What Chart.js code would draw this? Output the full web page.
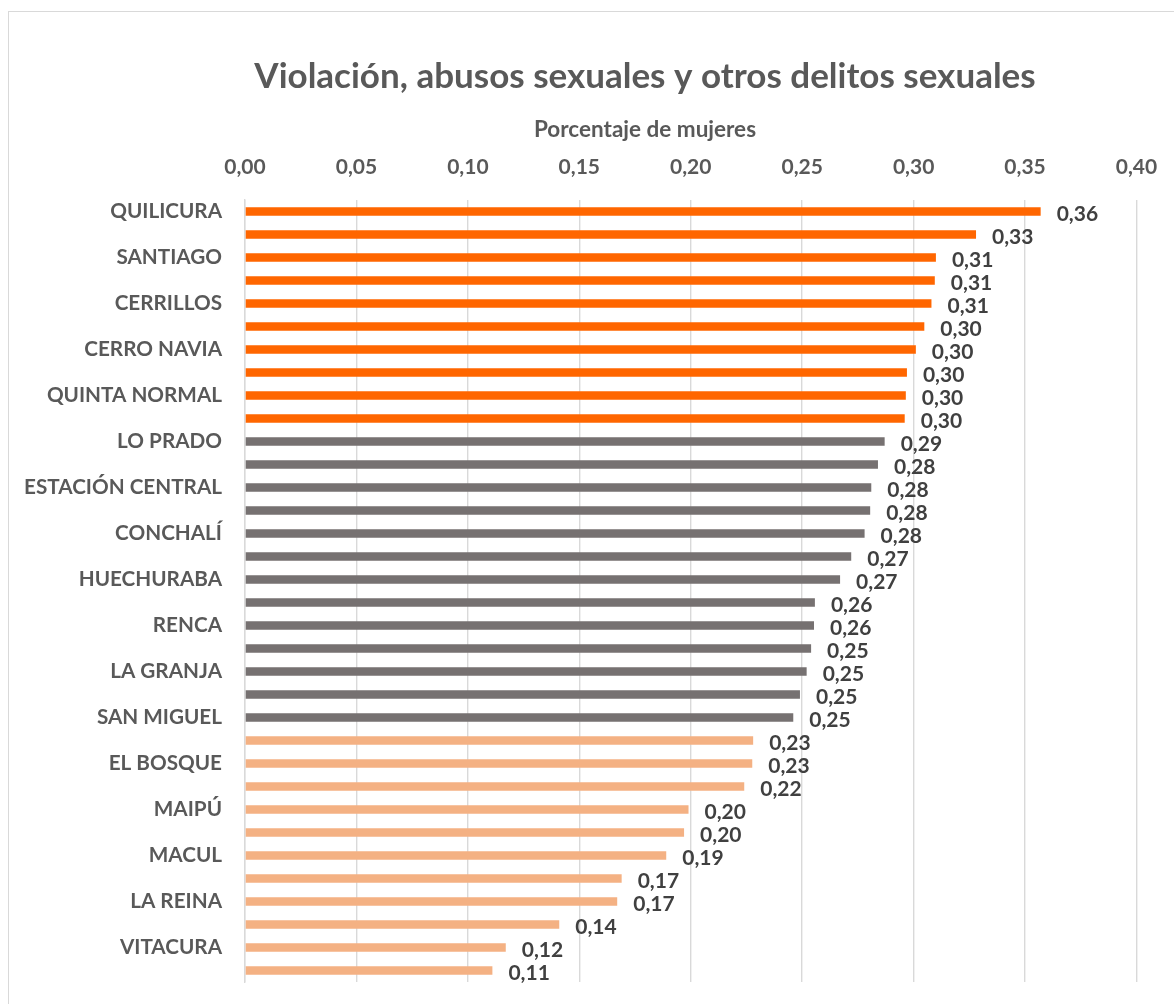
<!DOCTYPE html>
<html>
<head>
<meta charset="utf-8">
<script src="https://cdn.jsdelivr.net/npm/chart.js@4/dist/chart.umd.min.js"></script>
<style>
  html, body { margin: 0; padding: 0; background: #ffffff; overflow: hidden; width: 1174px; height: 1004px; }
  #frame { position: absolute; left: 8px; top: 11px; width: 3000px; height: 3000px; border: 1px solid #d9d9d9; }
  #c { position: absolute; left: 0; top: 0; }
</style>
</head>
<body>
<div id="frame"></div>
<canvas id="c" width="1290" height="1004"></canvas>
<script>
// ---- data ----
const categories = [
  'QUILICURA', 'INDEPENDENCIA', 'SANTIAGO', 'RECOLETA', 'CERRILLOS', 'PUDAHUEL',
  'CERRO NAVIA', 'LO ESPEJO', 'QUINTA NORMAL', 'SAN RAMÓN', 'LO PRADO', 'LA PINTANA',
  'ESTACIÓN CENTRAL', 'PEDRO AGUIRRE CERDA', 'CONCHALÍ', 'LA CISTERNA', 'HUECHURABA',
  'SAN JOAQUÍN', 'RENCA', 'PUENTE ALTO', 'LA GRANJA', 'SAN BERNARDO', 'SAN MIGUEL',
  'LA FLORIDA', 'EL BOSQUE', 'PEÑALOLÉN', 'MAIPÚ', 'ÑUÑOA', 'MACUL', 'PROVIDENCIA',
  'LA REINA', 'LAS CONDES', 'VITACURA', 'LO BARNECHEA'
];
const values = [
  0.357, 0.328, 0.310, 0.3095, 0.308, 0.3048,
  0.301, 0.297, 0.2965, 0.296, 0.287, 0.284,
  0.281, 0.2805, 0.278, 0.272, 0.267,
  0.2557, 0.2553, 0.254, 0.252, 0.249, 0.246,
  0.228, 0.2276, 0.224, 0.199, 0.197, 0.189, 0.169,
  0.167, 0.141, 0.117, 0.111
];
// number of communes in each tier (high, medium, low)
const tierCounts = [10, 13, 11];
const xTicks = [0, 0.05, 0.10, 0.15, 0.20, 0.25, 0.30, 0.35, 0.40];
const chartTitle = 'Violación, abusos sexuales y otros delitos sexuales';
const axisTitle = 'Porcentaje de mujeres';

// ---- styles ----
const tierColors = ['#FF6600', '#767171', '#F4B183'];
const barColors = [];
tierCounts.forEach((n, t) => { for (let i = 0; i < n; i++) barColors.push(tierColors[t]); });
const fmt = v => v.toFixed(2).replace('.', ',');
const FONT = 'Lato';

const valueLabels = {
  id: 'valueLabels',
  afterDatasetsDraw(chart) {
    const ctx = chart.ctx;
    const meta = chart.getDatasetMeta(0);
    ctx.save();
    ctx.font = 'bold 21px ' + FONT;
    ctx.fillStyle = '#404040';
    ctx.textAlign = 'left';
    ctx.textBaseline = 'middle';
    meta.data.forEach((bar, i) => {
      ctx.fillText(fmt(values[i]), bar.x + 16, bar.y + 2.5);
    });
    ctx.restore();
  }
};

new Chart(document.getElementById('c'), {
  type: 'bar',
  data: {
    labels: categories,
    datasets: [{
      data: values,
      backgroundColor: barColors,
      borderWidth: 0,
      barPercentage: 1,
      categoryPercentage: 0.38
    }]
  },
  options: {
    indexAxis: 'y',
    responsive: false,
    animation: false,
    devicePixelRatio: 1,
    layout: { padding: { left: 0, right: 0, top: 0, bottom: 22 } },
    plugins: {
      legend: { display: false },
      tooltip: { enabled: false },
      title: {
        display: true,
        text: chartTitle,
        color: '#595959',
        font: { family: FONT, size: 35, weight: 'bold', lineHeight: 1.2 },
        padding: { top: 56, bottom: 18.5 }
      },
      subtitle: {
        display: true,
        text: axisTitle,
        color: '#595959',
        font: { family: FONT, size: 22.5, weight: 'bold', lineHeight: 1.2 },
        padding: { top: 0, bottom: 0 }
      }
    },
    scales: {
      x: {
        position: 'top',
        min: 0,
        max: 0.40,
        afterBuildTicks: s => { s.ticks = xTicks.map(v => ({ value: v })); },
        afterFit: s => { s.height = 56.5; s.paddingLeft = 0; s.paddingRight = 0; },
        ticks: {
          color: '#595959',
          font: { family: FONT, size: 21, weight: 'bold', lineHeight: 1.2 },
          padding: 20.4,
          callback: v => fmt(v)
        },
        grid: { color: '#d9d9d9', lineWidth: 1.4, drawTicks: false },
        border: { display: false }
      },
      y: {
        afterFit: s => { s.width = 245; s.paddingTop = 0; s.paddingBottom = 0; },
        ticks: {
          autoSkip: false,
          color: '#595959',
          font: { family: FONT, size: 20.7, weight: 'bold', lineHeight: 1.2 },
          padding: 23,
          callback: (v, i) => (i % 2 === 0 ? categories[i] : '')
        },
        grid: { display: false, drawTicks: false },
        border: { display: true, color: '#d9d9d9', width: 1.4 }
      },
      yRight: {
        type: 'category',
        position: 'right',
        afterFit: s => { s.width = 153.5; s.paddingTop = 0; s.paddingBottom = 0; },
        ticks: { display: false },
        grid: { display: false, drawTicks: false },
        border: { display: false }
      }
    }
  },
  plugins: [valueLabels]
});
</script>
</body>
</html>
